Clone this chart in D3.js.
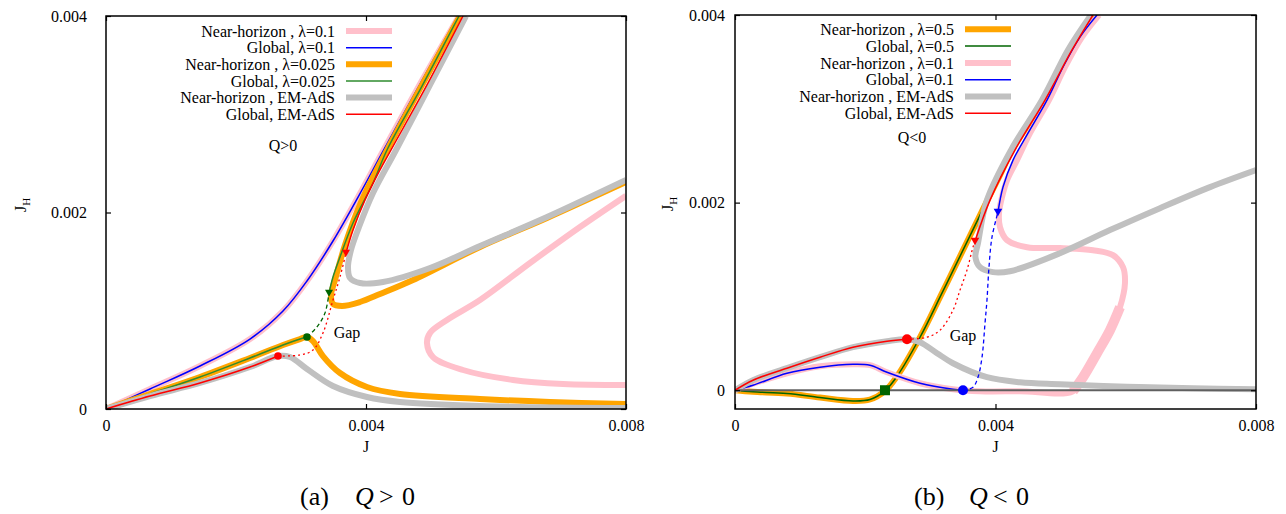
<!DOCTYPE html>
<html>
<head>
<meta charset="utf-8">
<script src="https://cdn.jsdelivr.net/npm/d3@7/dist/d3.min.js"></script>
<style>
  body { margin: 0; background: #fff; }
  svg { display: block; }
  text { font-family: "Liberation Serif", "DejaVu Serif", "Times New Roman", serif; fill: #000; }
</style>
</head>
<body>
<svg id="chart" width="1286" height="514"></svg>
<script>
// ---------- axes ----------
const xTickValues = [0, 0.004, 0.008];
const xTickLabels = ["0", "0.004", "0.008"];
const yTickValues = [0, 0.002, 0.004];
const yTickLabels = ["0", "0.002", "0.004"];

// ---------- panel (a): Q > 0, points are [J, J_H] ----------
const aNear01Lower = [[0,0],[0.000677,0.000204],[0.001446,0.000438],[0.002215,0.000712],[0.002723,0.000997],[0.003092,0.001303],[0.003492,0.00171],[0.003938,0.002229],[0.004262,0.002626],[0.004831,0.003308],[0.005430,0.004]];
const aNear01Upper = [[0.008,0.00217],[0.007292,0.001852],[0.006523,0.001486],[0.005754,0.001109],[0.005246,0.000906],[0.004985,0.000774],[0.004938,0.000672],[0.005031,0.000529],[0.005492,0.000397],[0.006262,0.000295],[0.007031,0.000254],[0.008,0.000244]];
const aGlobal01 = [[0,0],[0.000677,0.000204],[0.001446,0.000438],[0.002215,0.000712],[0.002723,0.000997],[0.003092,0.001303],[0.003492,0.00171],[0.003938,0.002229],[0.004262,0.002626],[0.004831,0.003308],[0.005415,0.004]];

const aNear025Lower = [[0,0],[0.000677,0.000153],[0.001446,0.000326],[0.002215,0.000519],[0.002723,0.000651],[0.002985,0.000712],[0.003092,0.000733],[0.003185,0.000692],[0.003338,0.000539],[0.0036,0.000366],[0.004015,0.000224],[0.004523,0.000153],[0.005754,0.000102],[0.006831,0.0000712],[0.008,0.0000509]];
const aNear025Upper = [[0.005446,0.004],[0.004862,0.003298],[0.004323,0.002636],[0.003938,0.002127],[0.003677,0.001669],[0.003523,0.001313],[0.003462,0.00116],[0.003492,0.001069],[0.003631,0.001048],[0.003908,0.001089],[0.004215,0.00117],[0.004723,0.001313],[0.005754,0.001649],[0.006785,0.001944],[0.008,0.00231]];
const aGlobal025Lower = [[0,0],[0.000677,0.000153],[0.001446,0.000326],[0.002215,0.000519],[0.002723,0.000651],[0.002985,0.000712],[0.003092,0.000733]];
const aGlobal025Gap = [[0.003092,0.000733],[0.003246,0.000835],[0.003369,0.000977],[0.003431,0.001181]];
const aGlobal025Upper = [[0.003431,0.001181],[0.003492,0.001344],[0.0036,0.001547],[0.0038,0.001893],[0.004108,0.0023],[0.004323,0.002636],[0.004862,0.003287],[0.005431,0.004]];

const aNearEMLower = [[0,0],[0.000677,0.000132],[0.001446,0.000265],[0.002215,0.000427],[0.002646,0.000539],[0.002831,0.000529],[0.003092,0.000407],[0.003492,0.000234],[0.004015,0.000122],[0.004523,0.0000712],[0.005754,0.0000305],[0.008,0.0000102]];
const aNearEMUpper = [[0.005538,0.004],[0.004985,0.003298],[0.004462,0.002636],[0.004108,0.002198],[0.003892,0.001852],[0.003769,0.001618],[0.003723,0.001445],[0.003754,0.001333],[0.003908,0.001282],[0.004262,0.001293],[0.004985,0.001435],[0.005754,0.001659],[0.006785,0.001954],[0.008,0.002331]];
const aGlobalEMLower = [[0,0],[0.000677,0.000132],[0.001446,0.000265],[0.002215,0.000427],[0.002646,0.000539]];
const aGlobalEMGap = [[0.002646,0.000539],[0.002985,0.00055],[0.003185,0.0006],[0.003338,0.000774],[0.003492,0.001109],[0.0036,0.001344],[0.003692,0.001588]];
const aGlobalEMUpper = [[0.003692,0.001588],[0.0038,0.001822],[0.003985,0.002127],[0.004215,0.002433],[0.0044,0.002656],[0.004938,0.003298],[0.005492,0.004]];

const aTurnPoints = [[0.002646,0.000539],[0.003092,0.000733]];      // red, green circles
const aLandPoints = [[0.003692,0.001588],[0.003431,0.001181]];      // red, green triangles

// ---------- panel (b): Q < 0 ----------
const bNear05 = [[0,0],[0.000276,-0.000016],[0.000798,-0.000035],[0.001305,-0.0000778],[0.001812,-0.000114],[0.002073,-0.0000987],[0.002303,-0.0000075],[0.002488,0.000149],[0.002841,0.000565],[0.003178,0.001035],[0.003501,0.001493],[0.003793,0.001909],[0.004069,0.002293],[0.004253,0.00256],[0.004745,0.003093],[0.005144,0.003627],[0.005482,0.004]];
const bGlobal05 = [[0,0],[0.000276,-0.000016],[0.000798,-0.000035],[0.001305,-0.0000778],[0.001812,-0.000114],[0.002073,-0.0000987],[0.002303,-0.0000075],[0.002488,0.000149],[0.002841,0.000565],[0.003178,0.001035],[0.003501,0.001493],[0.003793,0.001909],[0.004069,0.002293],[0.004253,0.00256],[0.004745,0.003093],[0.005144,0.003627],[0.005482,0.004]];

const bNear01 = [[0,0],[0.000276,0.0000693],[0.000798,0.000181],[0.001305,0.000256],[0.001812,0.000277],[0.002073,0.000267],[0.002334,0.000192],[0.002841,0.0000747],[0.003347,0.0000107],[0.003762,-0.0000107],[0.004376,-0.0000107],[0.00519,-0.0000107],[0.005344,0.000139],[0.005559,0.000395],[0.005758,0.00064],[0.005912,0.000885],[0.005988,0.001141],[0.005958,0.001312],[0.005804,0.00144],[0.005497,0.001493],[0.00499,0.001515],[0.004484,0.001525],[0.004177,0.0016],[0.004069,0.001739],[0.004054,0.001888],[0.0041,0.002059],[0.004177,0.00224],[0.00433,0.002453],[0.00453,0.002741],[0.004821,0.003093],[0.005067,0.003445],[0.005328,0.003765],[0.005589,0.004]];
const bNear01Rise = [[0.00519,-0.0000107],[0.005344,0.000139],[0.005559,0.000395],[0.005758,0.00064],[0.005912,0.000885]];
const bGlobal01Lower = [[0,0],[0.000276,0.0000533],[0.000798,0.000181],[0.001305,0.000245],[0.001812,0.000277],[0.002073,0.000267],[0.002334,0.000192],[0.002841,0.0000747],[0.003347,0.0000107],[0.003501,0]];
const bGlobal01Gap = [[0.003501,0],[0.003654,0.000032],[0.003731,0.000139],[0.003793,0.000352],[0.003839,0.000715],[0.003869,0.00096],[0.0039,0.001312],[0.003946,0.001632],[0.004038,0.001899]];
const bGlobal01Upper = [[0.004038,0.001899],[0.004115,0.002165],[0.004269,0.002453],[0.004499,0.002741],[0.004791,0.003093],[0.005036,0.003445],[0.005297,0.003765],[0.005559,0.004]];

const bNearEMLower = [[0,0],[0.000276,0.000107],[0.000798,0.000235],[0.001305,0.000352],[0.001812,0.000459],[0.002334,0.000523],[0.002641,0.000544],[0.002841,0.000512],[0.003102,0.000395],[0.003347,0.000288],[0.003869,0.000139],[0.004376,0.0000853],[0.00499,0.000064],[0.006019,0.0000373],[0.007033,0.0000213],[0.008,0.0000107]];
const bNearEMUpper = [[0.005466,0.004],[0.005113,0.003627],[0.004714,0.003093],[0.004238,0.00256],[0.003869,0.002027],[0.003731,0.001568],[0.003692,0.001419],[0.003762,0.001312],[0.003962,0.001259],[0.004223,0.001269],[0.00499,0.001461],[0.005758,0.001707],[0.006526,0.001941],[0.007294,0.002165],[0.008,0.002347]];
const bGlobalEMLower = [[0,0],[0.000276,0.000107],[0.000798,0.000235],[0.001305,0.000352],[0.001812,0.000459],[0.002334,0.000523],[0.002641,0.000544]];
const bGlobalEMGap = [[0.002641,0.000544],[0.002948,0.000565],[0.003148,0.00064],[0.003347,0.000853],[0.003455,0.001067],[0.003562,0.00128],[0.003654,0.001525],[0.003685,0.001589]];
const bGlobalEMUpper = [[0.003685,0.001589],[0.003916,0.002027],[0.004299,0.00256],[0.00476,0.003093],[0.005175,0.003627],[0.005497,0.004]];

const bTurnPoints = [[0.002641,0.000544],[0.003501,0]];             // red, blue circles
const bZeroCrossing = [0.002303,0];                                  // green square
const bLandPoints = [[0.003685,0.001589],[0.004038,0.001899]];      // red, blue triangles

// ---------- legends ----------
const legendLabelsA = ["Near-horizon , λ=0.1", "Global, λ=0.1", "Near-horizon , λ=0.025", "Global, λ=0.025", "Near-horizon , EM-AdS", "Global, EM-AdS"];
const legendLabelsB = ["Near-horizon , λ=0.5", "Global, λ=0.5", "Near-horizon , λ=0.1", "Global, λ=0.1", "Near-horizon , EM-AdS", "Global, EM-AdS"];

// ---------- styling ----------
const C = { pink: "#ffc0cb", blue: "#0000ff", orange: "#ffa500", green: "#2e8b2e", dgreen: "#006400", gray: "#c0c0c0", red: "#ff0000", zero: "#606060" };
const THICK = 6, THIN = 1.5;
const FONT = '"Liberation Serif", "DejaVu Serif", "Times New Roman", serif';

const svg = d3.select("#chart");
const defs = svg.append("defs");

function drawPanel(cfg) {
  const g = svg.append("g");
  const x = d3.scaleLinear().domain([0, 0.008]).range([cfg.left, cfg.right]);
  const y = d3.scaleLinear().domain(cfg.yDomain).range([cfg.bottom, cfg.top]);

  defs.append("clipPath").attr("id", "clip-" + cfg.id).append("rect")
    .attr("x", cfg.left).attr("y", cfg.top)
    .attr("width", cfg.right - cfg.left).attr("height", cfg.bottom - cfg.top);
  const plot = g.append("g").attr("clip-path", `url(#clip-${cfg.id})`);

  const line = d3.line().x(d => x(d[0])).y(d => y(d[1])).curve(d3.curveCatmullRom.alpha(0.5));

  cfg.series.forEach(s => {
    if (s.zeroLine) {
      plot.append("line").attr("x1", x(0)).attr("x2", x(0.008)).attr("y1", y(0)).attr("y2", y(0))
        .attr("stroke", C.zero).attr("stroke-width", 1.8);
      return;
    }
    plot.append("path").attr("d", line(s.data)).attr("fill", "none")
      .attr("stroke", s.color).attr("stroke-width", s.width)
      .attr("stroke-dasharray", s.dash || null)
      .attr("stroke-linejoin", "round").attr("stroke-linecap", s.cap || "butt");
  });

  // markers
  const tri = (r) => `M${-r},${-r * 0.8}L${r},${-r * 0.8}L0,${r * 0.95}Z`;
  cfg.markers.forEach(m => {
    const px = x(m.at[0]), py = y(m.at[1]);
    if (m.type === "circle") {
      plot.append("circle").attr("cx", px).attr("cy", py).attr("r", m.size).attr("fill", m.color);
    } else if (m.type === "square") {
      plot.append("rect").attr("x", px - m.size / 2).attr("y", py - m.size / 2)
        .attr("width", m.size).attr("height", m.size).attr("fill", m.color);
    } else {
      plot.append("path").attr("d", tri(m.size)).attr("transform", `translate(${px},${py})`).attr("fill", m.color);
    }
  });

  // axes: labelled bottom/left, mirrored inward ticks on top/right
  const style = a => {
    a.attr("font-size", 16).attr("font-family", FONT);
    a.select(".domain").remove();
    a.selectAll(".tick line").attr("stroke", "#000").attr("stroke-width", 1.2);
    a.selectAll("text").attr("fill", "#000");
  };
  g.append("g").attr("transform", `translate(0,${cfg.bottom})`)
    .call(d3.axisBottom(x).tickValues(xTickValues).tickFormat((d, i) => xTickLabels[i])
      .tickSizeInner(-5).tickSizeOuter(0).tickPadding(11)).call(style);
  g.append("g").attr("transform", `translate(0,${cfg.top})`)
    .call(d3.axisTop(x).tickValues(xTickValues).tickFormat(() => "")
      .tickSizeInner(-5).tickSizeOuter(0)).call(style);
  g.append("g").attr("transform", `translate(${cfg.left},0)`)
    .call(d3.axisLeft(y).tickValues(yTickValues).tickFormat((d, i) => yTickLabels[i])
      .tickSizeInner(-5).tickSizeOuter(0).tickPadding(cfg.yPad)).call(style);
  g.append("g").attr("transform", `translate(${cfg.right},0)`)
    .call(d3.axisRight(y).tickValues(yTickValues).tickFormat(() => "")
      .tickSizeInner(-5).tickSizeOuter(0)).call(style);

  g.append("rect").attr("x", cfg.left).attr("y", cfg.top)
    .attr("width", cfg.right - cfg.left).attr("height", cfg.bottom - cfg.top)
    .attr("fill", "none").attr("stroke", "#000").attr("stroke-width", 1.5);

  // axis titles
  g.append("text").attr("x", (cfg.left + cfg.right) / 2).attr("y", 452)
    .attr("text-anchor", "middle").attr("font-size", 16).text("J");
  const yt = g.append("text").attr("transform", `translate(${cfg.yTitleX},${cfg.yTitleY}) rotate(-90)`)
    .attr("text-anchor", "middle").attr("font-size", 16);
  yt.append("tspan").text("J");
  yt.append("tspan").attr("dy", 4).attr("font-size", 11).text("H");

  // legend
  cfg.legend.labels.forEach((lab, i) => {
    const ly = cfg.legend.y0 + i * cfg.legend.step;
    g.append("text").attr("x", cfg.legend.textRight).attr("y", ly).attr("dy", "0.35em")
      .attr("text-anchor", "end").attr("font-size", 16).text(lab);
    g.append("line").attr("x1", cfg.legend.x1).attr("x2", cfg.legend.x2).attr("y1", ly).attr("y2", ly)
      .attr("stroke", cfg.legend.colors[i]).attr("stroke-width", cfg.legend.widths[i]);
  });

  // annotations
  cfg.notes.forEach(n => {
    g.append("text").attr("x", n.x).attr("y", n.y).attr("dy", "0.35em")
      .attr("text-anchor", "middle").attr("font-size", 16).text(n.text);
  });

  // caption
  const cap = g.append("text").attr("y", 505).attr("font-size", 26);
  cap.append("tspan").attr("x", cfg.caption.x).text(cfg.caption.tag);
  cap.append("tspan").attr("x", cfg.caption.x + 55).attr("font-style", "italic").text("Q");
  cap.append("tspan").attr("x", cfg.caption.x + 79).text(cfg.caption.rel);
  cap.append("tspan").attr("x", cfg.caption.x + 102).text("0");
}

drawPanel({
  id: "a", left: 106, right: 626, top: 16, bottom: 409, yDomain: [0, 0.004], yPad: 19,
  yTitleX: 26, yTitleY: 205,
  series: [
    { data: aNear01Lower, color: C.pink, width: THICK },
    { data: aNear01Upper, color: C.pink, width: THICK },
    { data: aGlobal01, color: C.blue, width: THIN },
    { data: aNear025Lower, color: C.orange, width: THICK },
    { data: aNear025Upper, color: C.orange, width: THICK },
    { data: aGlobal025Lower, color: C.green, width: THIN },
    { data: aGlobal025Upper, color: C.green, width: THIN },
    { data: aNearEMLower, color: C.gray, width: THICK },
    { data: aNearEMUpper, color: C.gray, width: THICK },
    { data: aGlobalEMLower, color: C.red, width: THIN },
    { data: aGlobalEMUpper, color: C.red, width: THIN },
    { data: aGlobal025Gap, color: C.dgreen, width: 1.3, dash: "4,3" },
    { data: aGlobalEMGap, color: C.red, width: 1.3, dash: "2,3" }
  ],
  markers: [
    { type: "circle", at: aTurnPoints[0], color: C.red, size: 3.8 },
    { type: "circle", at: aTurnPoints[1], color: C.dgreen, size: 3.8 },
    { type: "tri", at: aLandPoints[0], color: C.red, size: 4 },
    { type: "tri", at: aLandPoints[1], color: C.dgreen, size: 4 }
  ],
  legend: {
    labels: legendLabelsA, textRight: 335, x1: 346, x2: 392, y0: 31, step: 16.65,
    colors: [C.pink, C.blue, C.orange, C.green, C.gray, C.red],
    widths: [THICK, THIN, THICK, THIN, THICK, THIN]
  },
  notes: [{ x: 283, y: 145, text: "Q>0" }, { x: 347, y: 332, text: "Gap" }],
  caption: { x: 300, tag: "(a)", rel: ">" }
});

drawPanel({
  id: "b", left: 735, right: 1256, top: 15, bottom: 409, yDomain: [-0.0002, 0.004], yPad: 10,
  yTitleX: 673, yTitleY: 204,
  series: [
    { data: bNear05, color: C.orange, width: THICK },
    { data: bGlobal05, color: C.dgreen, width: THIN },
    { data: bNear01, color: C.pink, width: THICK },
    { data: bNear01Rise, color: C.pink, width: 10 },
    { data: bGlobal01Lower, color: C.blue, width: THIN },
    { data: bGlobal01Upper, color: C.blue, width: THIN },
    { data: bNearEMLower, color: C.gray, width: THICK },
    { data: bNearEMUpper, color: C.gray, width: THICK },
    { zeroLine: true },
    { data: bGlobalEMLower, color: C.red, width: THIN },
    { data: bGlobalEMUpper, color: C.red, width: THIN },
    { data: bGlobal01Gap, color: C.blue, width: 1.3, dash: "4,3" },
    { data: bGlobalEMGap, color: C.red, width: 1.3, dash: "2,3" }
  ],
  markers: [
    { type: "square", at: bZeroCrossing, color: C.dgreen, size: 10 },
    { type: "circle", at: bTurnPoints[0], color: C.red, size: 5 },
    { type: "circle", at: bTurnPoints[1], color: C.blue, size: 5 },
    { type: "tri", at: bLandPoints[0], color: C.red, size: 4.3 },
    { type: "tri", at: bLandPoints[1], color: C.blue, size: 4.3 }
  ],
  legend: {
    labels: legendLabelsB, textRight: 954, x1: 965, x2: 1011, y0: 29.3, step: 16.8,
    colors: [C.orange, C.dgreen, C.pink, C.blue, C.gray, C.red],
    widths: [THICK, THIN, THICK, THIN, THICK, THIN]
  },
  notes: [{ x: 912, y: 137, text: "Q<0" }, { x: 963, y: 335, text: "Gap" }],
  caption: { x: 914, tag: "(b)", rel: "<" }
});
</script>
</body>
</html>
